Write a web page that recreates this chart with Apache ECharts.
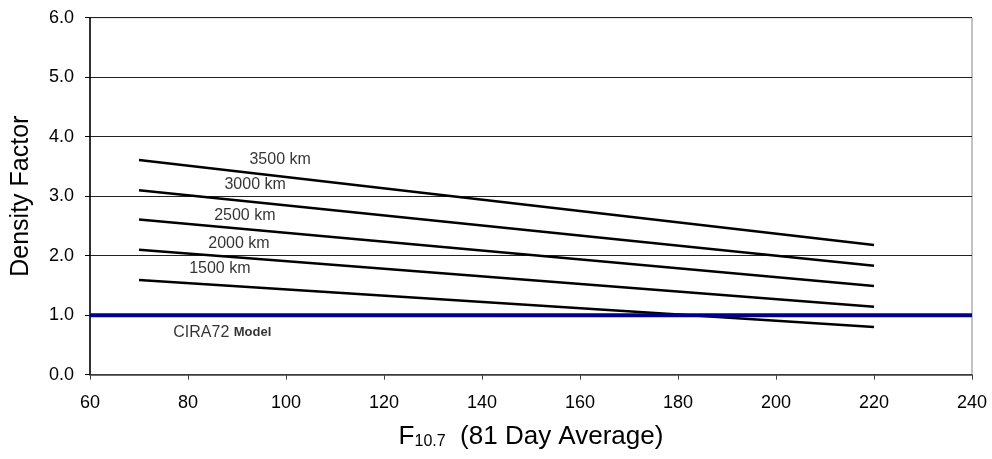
<!DOCTYPE html>
<html>
<head>
<meta charset="utf-8">
<script src="https://cdn.jsdelivr.net/npm/echarts@6/dist/echarts.min.js"></script>
<style>
  html, body { margin: 0; padding: 0; background: #fff; }
  #main { width: 992px; height: 459px; }
</style>
</head>
<body>
<div id="main"></div>
<script>
// F10.7 values where the altitude lines start and end
const fluxRange = [70, 220]
const altitudes = ['3500 km', '3000 km', '2500 km', '2000 km', '1500 km']
const startFactor = [3.61, 3.10, 2.61, 2.10, 1.59]
const endFactor = [2.18, 1.83, 1.49, 1.14, 0.80]
const ciraLevel = 1.0
const ciraSpan = [60, 240]
// label anchor points (data coords)
const labelX = [98.8, 93.7, 91.6, 90.4, 86.5]
const labelY = [3.61, 3.19, 2.67, 2.21, 1.79]
const ciraLabelAt = [87, 0.71]

const chartDom = document.getElementById('main')
const myChart = echarts.init(chartDom)
const font = 'Liberation Sans, Arial, sans-serif'

const altSeries = altitudes.map((name, i) => ({
  name: name,
  type: 'line',
  symbol: 'none',
  silent: true,
  lineStyle: { color: '#000', width: 2.5 },
  data: [[fluxRange[0], startFactor[i]], [fluxRange[1], endFactor[i]]]
}))

const option = {
  animation: false,
  backgroundColor: '#fff',
  grid: {
    left: 90, right: 20, top: 17.7, bottom: 84.3,
    show: true, borderColor: '#888', borderWidth: 1
  },
  xAxis: {
    type: 'value',
    min: 60, max: 240, interval: 20,
    axisLine: { lineStyle: { color: '#444', width: 1.5 } },
    axisTick: { show: true, length: 5, lineStyle: { color: '#444' } },
    axisLabel: { color: '#000', fontSize: 18, fontFamily: font, margin: 19 },
    splitLine: { show: false },
    name: 'F{sub|10.7}  (81 Day Average)',
    nameLocation: 'middle',
    nameGap: 49,
    nameTextStyle: {
      color: '#000', fontSize: 26, fontFamily: font,
      rich: {
        sub: { fontSize: 16, fontFamily: font, color: '#000', verticalAlign: 'bottom', padding: [10, 0, 0, 0] }
      }
    }
  },
  yAxis: {
    type: 'value',
    min: 0, max: 6, interval: 1,
    axisLine: { show: true, lineStyle: { color: '#000', width: 1.5 } },
    axisTick: { show: true, length: 5, lineStyle: { color: '#000' } },
    axisLabel: { color: '#000', fontSize: 18, fontFamily: font, margin: 16, formatter: v => v.toFixed(1) },
    splitLine: { show: true, lineStyle: { color: '#222', width: 1 } },
    name: 'Density Factor',
    nameLocation: 'middle',
    nameGap: 56,
    nameTextStyle: { color: '#000', fontSize: 25, fontFamily: font }
  },
  series: [
    ...altSeries,
    {
      name: 'CIRA72',
      type: 'line',
      symbol: 'none',
      silent: true,
      lineStyle: { color: '#00008b', width: 4 },
      data: [[ciraSpan[0], ciraLevel], [ciraSpan[1], ciraLevel]],
      z: 3
    },
    {
      name: 'labels',
      type: 'scatter',
      symbolSize: 0,
      silent: true,
      data: altitudes.map((a, i) => ({ value: [labelX[i], labelY[i]], name: a })).concat([
        { value: ciraLabelAt, name: 'CIRA72 {b|Model}' }
      ]),
      label: {
        show: true,
        position: 'inside',
        formatter: p => p.name,
        color: '#000',
        textBorderWidth: 0,
        fontSize: 16,
        fontFamily: font,
        rich: { b: { fontSize: 13, fontWeight: 'bold', fontFamily: font, color: '#000' } }
      }
    }
  ]
}

option && myChart.setOption(option)
</script>
</body>
</html>
